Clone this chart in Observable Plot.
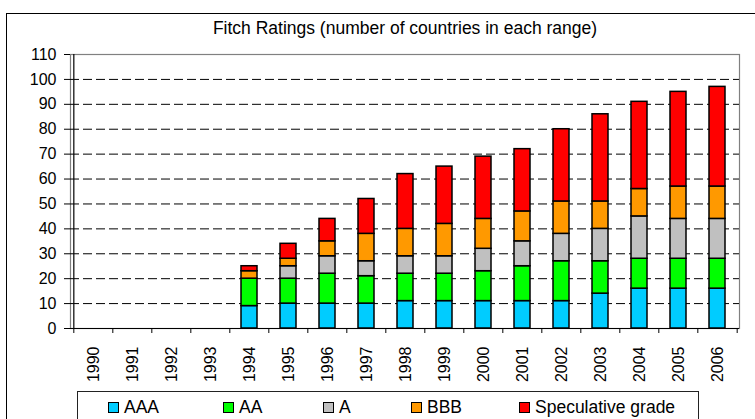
<!DOCTYPE html>
<html>
<head>
<meta charset="utf-8">
<script src="https://cdn.jsdelivr.net/npm/d3@7"></script>
<script src="https://cdn.jsdelivr.net/npm/@observablehq/plot@0.6"></script>
<style>
  body { margin: 0; background: #fff; font-family: "Liberation Sans", Arial, sans-serif; }
  #wrap { position: relative; width: 755px; height: 419px; overflow: hidden; background: #fff; }
  #outer { position: absolute; left: 6px; top: 13px; width: 800px; height: 500px; border: 1.5px solid #000; }
  #title { position: absolute; left: 0; width: 810px; top: 18px; text-align: center; font-size: 17.5px; color: #000; }
  #chart { position: absolute; left: 0; top: 0; }
  #legend { position: absolute; left: 77px; top: 391px; width: 620px; height: 60px; border: 1px solid #222; background: #fff; }
  .item { position: absolute; top: 5px; font-size: 17.5px; line-height: 20px; white-space: nowrap; }
  .sw { display: inline-block; width: 9px; height: 9px; border: 1px solid #000; margin-right: 5px; vertical-align: 0px; }
</style>
</head>
<body>
<div id="wrap">
  <div id="outer"></div>
  <div id="title">Fitch Ratings (number of countries in each range)</div>
  <div id="chart"></div>
  <div id="legend"></div>
</div>
<script>
const years = ["1990","1991","1992","1993","1994","1995","1996","1997","1998","1999","2000","2001","2002","2003","2004","2005","2006"];
const ratings = ["AAA", "AA", "A", "BBB", "Speculative grade"];
const colors = ["#00CCFF", "#00FF00", "#C0C0C0", "#FF9900", "#FF0000"];
const AAA  = [0,0,0,0, 9,10,10,10,11,11,11,11,11,14,16,16,16];
const AA   = [0,0,0,0,11,10,12,11,11,11,12,14,16,13,12,12,12];
const A    = [0,0,0,0, 0, 5, 7, 6, 7, 7, 9,10,11,13,17,16,16];
const BBB  = [0,0,0,0, 3, 3, 6,11,11,13,12,12,13,11,11,13,13];
const Spec = [0,0,0,0, 2, 6, 9,14,22,23,25,25,29,35,35,38,40];
const yTicks = d3.range(0, 111, 10);
const gridTicks = d3.range(10, 101, 10);

const series = [AAA, AA, A, BBB, Spec];
const rows = [];
years.forEach((yr, i) => {
  series.forEach((s, k) => {
    if (s[i] > 0) rows.push({year: yr, rating: ratings[k], value: s[i]});
  });
});

const W = 755, H = 419, mL = 70, mR = 16, mT = 54, mB = 91;
const bw = (W - mL - mR) / years.length;

const chart = Plot.plot({
  width: W,
  height: H,
  marginLeft: mL,
  marginRight: mR,
  marginTop: mT,
  marginBottom: mB,
  style: {fontFamily: "'Liberation Sans', Arial, sans-serif", fontSize: "16px", color: "#000", background: "transparent"},
  x: {domain: years, paddingInner: 0.6, paddingOuter: 0.3, label: null},
  y: {domain: [0, 110], label: null},
  color: {domain: ratings, range: colors},
  marks: [
    Plot.frame({stroke: "#808080", strokeWidth: 1.2}),
    Plot.ruleY(gridTicks, {stroke: "#000", strokeWidth: 1, strokeDasharray: "9,4"}),
    Plot.barY(rows, Plot.stackY({order: ratings}, {x: "year", y: "value", z: "rating", fill: "rating", stroke: "#000", strokeWidth: 1.5})),
    Plot.ruleY([0], {stroke: "#000", strokeWidth: 1.2}),
    Plot.ruleX([years[0]], {dx: -bw / 2, stroke: "#000", strokeWidth: 1.2}),
    Plot.axisY(yTicks, {tickSize: 6, tickPadding: 8, label: null, fontSize: 16}),
    Plot.axisX(years, {tickSize: 5, tickFormat: () => "", dx: -bw / 2, label: null}),
    Plot.axisX([years[years.length - 1]], {tickSize: 5, tickFormat: () => "", dx: bw / 2, label: null}),
    Plot.axisX(years, {tickSize: 0, tickPadding: 18, tickRotate: -90, label: null, fontSize: 16})
  ]
});
document.getElementById("chart").appendChild(chart);

const legendX = [30, 145, 245, 333, 441];
const legend = document.getElementById("legend");
ratings.forEach((r, i) => {
  const d = document.createElement("div");
  d.className = "item";
  d.style.left = legendX[i] + "px";
  d.innerHTML = `<span class="sw" style="background:${colors[i]}"></span>${r}`;
  legend.appendChild(d);
});
</script>
</body>
</html>
